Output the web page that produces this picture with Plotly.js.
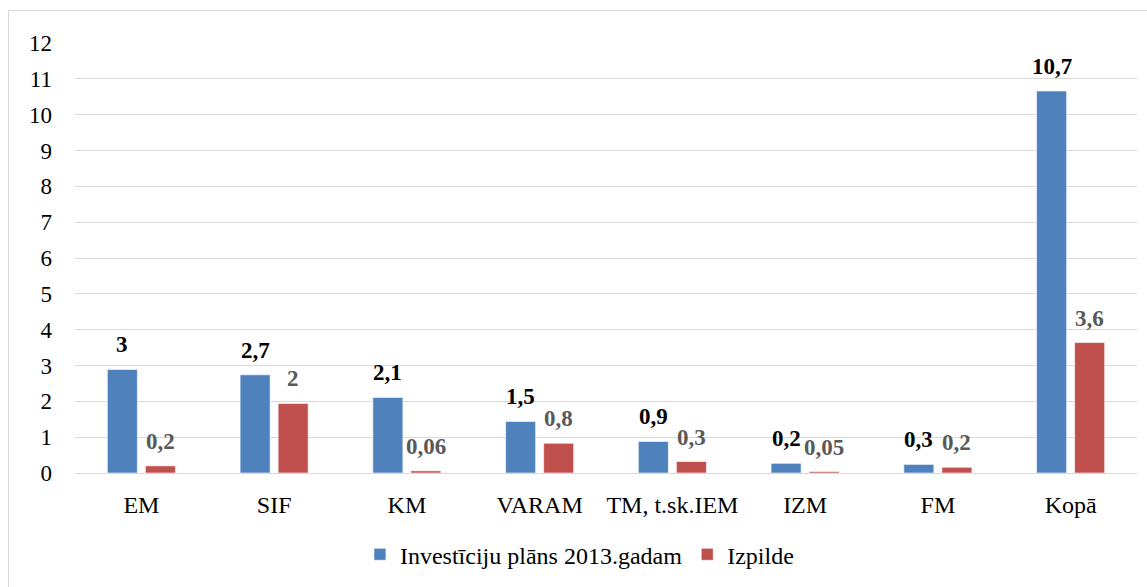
<!DOCTYPE html>
<html>
<head>
<meta charset="utf-8">
<script src="https://cdn.plot.ly/plotly-3.0.1.min.js"></script>
<style>
  html, body { margin: 0; padding: 0; background: #fff; overflow: hidden; }
  #chart { width: 1147px; height: 587px; }
  #frame { position: absolute; left: 8px; top: 10px; width: 1200px; height: 700px;
           border-left: 1px solid #d9d9d9; border-top: 1px solid #d9d9d9; pointer-events: none; }
</style>
</head>
<body>
<div id="chart"></div>
<div id="frame"></div>
<script>
const categories = ['EM', 'SIF', 'KM', 'VARAM', 'TM, t.sk.IEM', 'IZM', 'FM', 'Kopā'];
const planValues = [2.89, 2.74, 2.11, 1.44, 0.88, 0.27, 0.24, 10.66];
const execValues = [0.20, 1.94, 0.06, 0.83, 0.32, 0.04, 0.16, 3.64];
const planLabels = ['3', '2,7', '2,1', '1,5', '0,9', '0,2', '0,3', '10,7'];
const execLabels = ['0,2', '2', '0,06', '0,8', '0,3', '0,05', '0,2', '3,6'];
const seriesNames = ['Investīciju plāns 2013.gadam', 'Izpilde'];

const FONT = '"Liberation Serif", "Times New Roman", serif';
const BLUE = '#4f81bd';
const RED = '#c0504d';

const traces = [
  { type: 'bar', name: seriesNames[0], x: categories, y: planValues,
    marker: { color: BLUE, line: { color: '#ffffff', width: 0.6 } }, hoverinfo: 'y' },
  { type: 'bar', name: seriesNames[1], x: categories, y: execValues,
    marker: { color: RED, line: { color: '#ffffff', width: 0.6 } }, hoverinfo: 'y' }
];

const annotations = [];
categories.forEach((c, i) => {
  annotations.push({ x: c, y: planValues[i], xref: 'x', yref: 'y', text: '<b>' + planLabels[i] + '</b>',
    showarrow: false, xshift: -19, yshift: 10, yanchor: 'bottom', xanchor: 'center',
    font: { family: FONT, size: 23, color: '#000000' } });
  annotations.push({ x: c, y: execValues[i], xref: 'x', yref: 'y', text: '<b>' + execLabels[i] + '</b>',
    showarrow: false, xshift: 19, yshift: 10, yanchor: 'bottom', xanchor: 'center',
    font: { family: FONT, size: 23, color: '#595959' } });
});

const layout = {
  width: 1147, height: 587,
  margin: { l: 75, r: 10, t: 43, b: 112 },
  paper_bgcolor: '#ffffff', plot_bgcolor: '#ffffff',
  font: { family: FONT, size: 23, color: '#000000' },
  barmode: 'group', bargap: 0.427, bargroupgap: 0.21,
  xaxis: { type: 'category', showgrid: false, showline: false, zeroline: false, ticks: '',
           tickfont: { family: FONT, size: 24, color: '#000' }, ticklabelstandoff: 15 },
  yaxis: { range: [0, 12], dtick: 1, tick0: 0, showgrid: true, gridcolor: '#d9d9d9', gridwidth: 1,
           zeroline: true, zerolinecolor: '#d9d9d9', zerolinewidth: 1, showline: false, ticks: '',
           tickfont: { family: FONT, size: 23, color: '#000' }, ticklabelstandoff: 22 },
  showlegend: true,
  legend: { orientation: 'h', x: 0.475, xanchor: 'center', y: -0.19, yanchor: 'middle',
            font: { family: FONT, size: 24, color: '#000' }, itemwidth: 30, traceorder: 'normal' },
  annotations: annotations
};

Plotly.newPlot('chart', traces, layout, { displayModeBar: false, staticPlot: true });
</script>
</body>
</html>
